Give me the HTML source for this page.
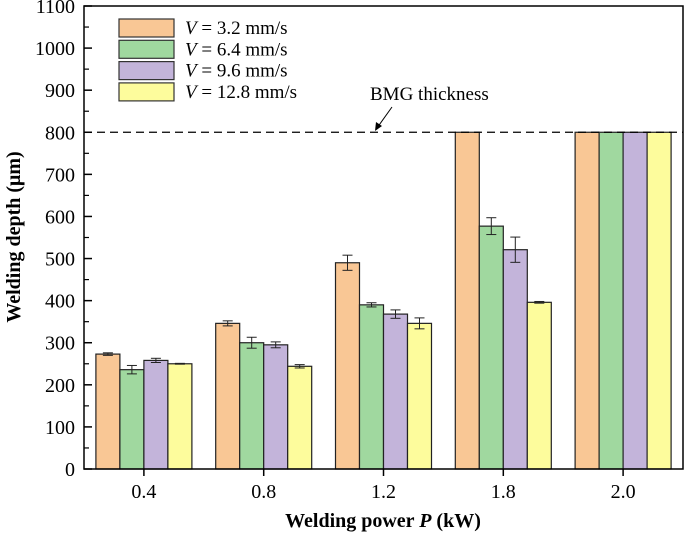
<!DOCTYPE html>
<html><head><meta charset="utf-8"><style>
body{margin:0;background:#fff;}
svg, svg text{font-family:"Liberation Serif","DejaVu Serif",serif;fill:#000;}
</style></head><body>
<svg id="chart" width="685" height="540" viewBox="0 0 685 540" font-family="Liberation Serif, serif">
<g id="bars"></g>
<g id="axes"></g>
</svg>
<script>
const categories = ["0.4","0.8","1.2","1.8","2.0"];
const seriesNames = ["3.2","6.4","9.6","12.8"];
const s1 = [273,346,490,800,800];
const s2 = [236,300,390,577,800];
const s3 = [258,295,368,521,800];
const s4 = [250,244,346,396,800];
const e1 = [3,6,18,0,0];
const e2 = [10,13,5,20,0];
const e3 = [5,7,10,30,0];
const e4 = [1,4,13,2,0];
const yTicks = [0,100,200,300,400,500,600,700,800,900,1000,1100];
const thickness = 800;

const colors = ["#f9c795","#a0d89f","#c3b4da","#fdfc9c"];
const L=84,R=683,T=6,B=469,yMax=1100;
const y = v => B-(v/yMax)*(B-T);
const band=(R-L)/categories.length;
const xc = i => L+band*(i+0.5);
const bw=24;
const ns="http://www.w3.org/2000/svg";
const FF="Liberation Serif, serif";
function mk(tag,attrs,parent){const e=document.createElementNS(ns,tag);for(const k in attrs)e.setAttribute(k,attrs[k]);if(tag==='text')e.setAttribute('font-family',FF);parent.appendChild(e);return e;}
const bars=document.getElementById('bars'), axes=document.getElementById('axes'), svg=document.getElementById('chart');
const series=[s1,s2,s3,s4], errs=[e1,e2,e3,e4];
categories.forEach((c,i)=>{
  series.forEach((s,j)=>{
    const x0=xc(i)-2*bw+j*bw;
    const r=mk('rect',{x:x0,y:y(s[i]),width:bw,height:B-y(s[i]),fill:colors[j],stroke:'#222','stroke-width':1.2},bars);
    
    
    const e=errs[j][i];
    if(e>0){
      const g=mk('g',{stroke:'#222','stroke-width':1},bars);
      
      
      const cx=x0+bw/2;
      mk('line',{x1:cx,x2:cx,y1:y(s[i]+e),y2:y(s[i]-e)},g);
      mk('line',{x1:cx-5,x2:cx+5,y1:y(s[i]+e),y2:y(s[i]+e)},g);
      mk('line',{x1:cx-5,x2:cx+5,y1:y(s[i]-e),y2:y(s[i]-e)},g);
    }
  });
  const t=mk('line',{x1:xc(i),x2:xc(i),y1:B,y2:B+7,stroke:'#000','stroke-width':1.5},axes);
  
  
  const lb=mk('text',{x:xc(i),y:B+29,'text-anchor':'middle','font-size':20},axes);
  lb.textContent=c;
  
  
});
const dl=mk('line',{x1:L,x2:R,y1:y(thickness),y2:y(thickness),stroke:'#000','stroke-width':1.2,'stroke-dasharray':'8,5'},axes);


const at=mk('text',{x:370,y:100,'font-size':19},axes);
at.textContent='BMG thickness';


const ar=mk('line',{x1:392,y1:107,x2:377,y2:128,stroke:'#000','stroke-width':1},axes);


mk('path',{d:'M375,131 L376,122 L382,126 Z',fill:'#000'},axes);
const fr=mk('rect',{x:L,y:T,width:R-L,height:B-T,fill:'none',stroke:'#000','stroke-width':1.5},axes);


yTicks.forEach(v=>{
  mk('line',{x1:L,x2:L+8,y1:y(v),y2:y(v),stroke:'#000','stroke-width':1.5},axes);
  if(v<1100) mk('line',{x1:L,x2:L+5,y1:y(v+50),y2:y(v+50),stroke:'#000','stroke-width':1.2},axes);
  const t=mk('text',{x:L-9,y:y(v)+7,'text-anchor':'end','font-size':20},axes);
  t.textContent=v;
  
  
});
const lg=mk('g',{},svg);


seriesNames.forEach((n,j)=>{
  const yy=19+j*21.3;
  mk('rect',{x:119,y:yy,width:55,height:18,fill:colors[j],stroke:'#333','stroke-width':1.2},lg);
  const t=mk('text',{x:185,y:yy+15,'font-size':19},lg);
  t.innerHTML='<tspan font-style="italic">V</tspan> = '+n+' mm/s';
  
  
});
const xt=mk('text',{x:383,y:527,'text-anchor':'middle','font-size':20,'font-weight':'bold'},svg);
xt.innerHTML='Welding power <tspan font-style="italic">P</tspan> (kW)';


const yt=mk('text',{x:0,y:0,'text-anchor':'middle','font-size':20,'font-weight':'bold',transform:'translate(20,237) rotate(-90)'},svg);
yt.textContent='Welding depth (μm)';


</script>
</body></html>
